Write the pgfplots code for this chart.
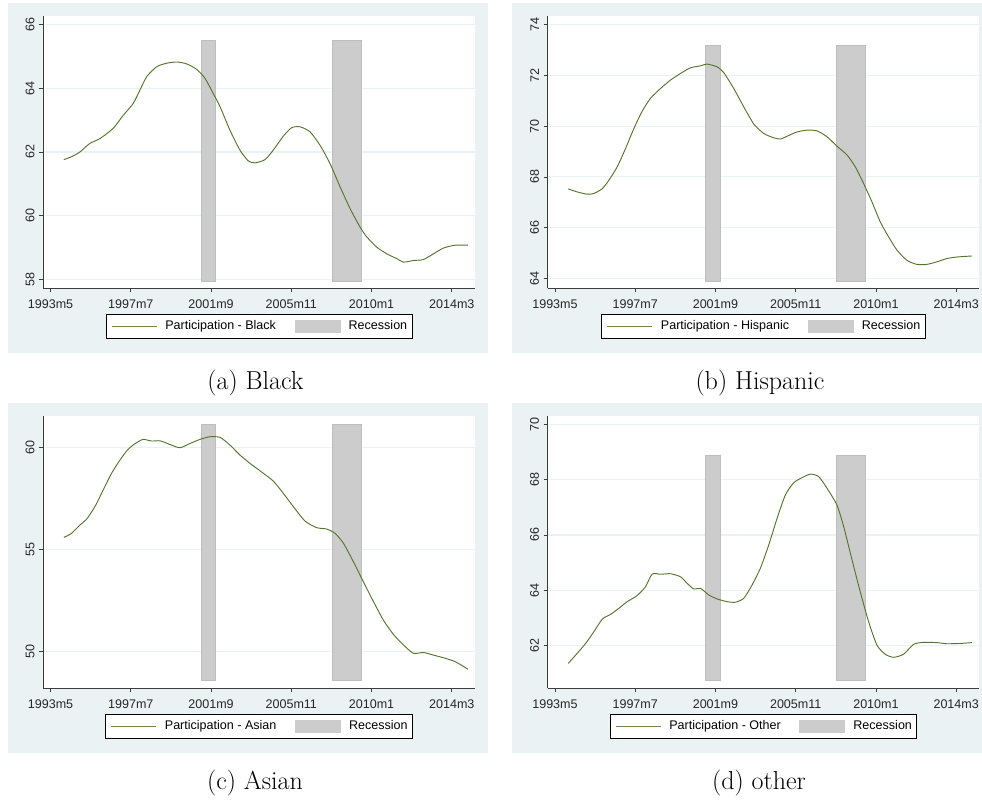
\documentclass[border=0pt]{standalone}
\usepackage{fontspec}
\usepackage{pgfplots}
\pgfplotsset{compat=1.18}
\newfontfamily\arial{Liberation Sans}

\definecolor{bgblue}{RGB}{234,242,243}
\definecolor{forest}{RGB}{85,117,47}
\definecolor{recfill}{RGB}{204,204,204}
\definecolor{recedge}{RGB}{190,190,190}
\definecolor{axisgray}{RGB}{60,60,60}

\pgfplotsset{
  statapanel/.style={
    scale only axis, width=323.8pt, height=204.2pt,
    xmin=395.5, xmax=664.5,
    xtick={400,450,500,550,600,650},
    xticklabels={1993m5,1997m7,2001m9,2005m11,2010m1,2014m3},
    axis lines*=left,
    axis line style={axisgray, line width=0.7pt},
    tick align=outside, major tick length=3pt,
    tick style={axisgray, line width=0.6pt},
    ymajorgrids, grid style={bgblue, line width=0.8pt},
    axis background/.style={fill=white},
    ticklabel style={font=\arial\fontsize{9.4}{11}\selectfont, text=black!85},
    /pgf/number format/assume math mode=true,
    xticklabel style={yshift=-2.2pt},
    yticklabel style={rotate=90, anchor=south},
    legend columns=2,
    legend cell align=left,
    legend style={at={(0.5,0)}, anchor=north, yshift=-19.5pt,
      draw=black, line width=0.75pt, fill=white,
      font=\arial\fontsize{9.4}{11}\selectfont,
      inner xsep=3.75pt, inner ysep=3.9pt,
      nodes={inner sep=0pt, text height=7pt, text depth=2pt},
      /tikz/every odd column/.append style={column sep=6pt},
      /tikz/every even column/.append style={column sep=14pt}},
  },
  recbar/.style={fill=recfill, draw=recedge, line width=0.5pt, forget plot},
  partline/.style={forest, line width=0.7pt, smooth, tension=0.4,
    legend image code/.code={\draw[forest!85, line width=0.8pt] (0pt,0pt) -- (33.75pt,0pt);}},
  recimage/.style={legend image code/.code={\fill[recfill] (0pt,-4.5pt) rectangle (33.75pt,4.5pt);}},
}

\begin{document}
\begin{tikzpicture}
\useasboundingbox (0,0) rectangle (736.5pt,-600.75pt);
% panel backgrounds
\fill[bgblue] (6pt,-2.25pt) rectangle (366pt,-264.75pt);
\fill[bgblue] (384pt,-2.25pt) rectangle (736.5pt,-264.75pt);
\fill[bgblue] (6pt,-302.25pt) rectangle (366pt,-564.75pt);
\fill[bgblue] (384pt,-302.25pt) rectangle (736.5pt,-564.75pt);

% (a) Black
\begin{axis}[statapanel, at={(32.5pt,-12pt)}, anchor=north west,
  ymin=57.73, ymax=66.26, ytick={58,60,62,64,66}]
\addplot[recbar] coordinates {(494,57.96) (502.8,57.96) (502.8,65.49) (494,65.49)} -- cycle;
\addplot[recbar] coordinates {(575.5,57.96) (593.5,57.96) (593.5,65.49) (575.5,65.49)} -- cycle;
\addplot[partline] coordinates {
(408.3,61.76) (413,61.85) (418.3,62.0) (424.5,62.27) (430.8,62.42) (439,62.74)
(445.3,63.15) (451.5,63.52) (455.7,63.94) (459.9,64.36) (466.1,64.67) (472.3,64.78)
(478.6,64.82) (484.8,64.76) (491,64.59) (496.2,64.31) (501.4,63.83) (505.6,63.42)
(511.8,62.68) (518,62.06) (523.2,61.72) (527.4,61.66) (533.6,61.76) (538.8,62.06)
(545.1,62.5) (550.2,62.76) (555.4,62.79) (561.7,62.63) (567.9,62.21) (574.1,61.64)
(580.4,60.91) (586.6,60.23) (592.8,59.65) (597,59.34) (603.2,59.02) (609.5,58.81)
(615.7,58.66) (619.9,58.55) (626.1,58.6) (632.3,58.63) (638.6,58.81) (644.8,58.99)
(652.1,59.08) (660,59.08)};
\addlegendentry{Participation - Black}
\addlegendimage{recimage}
\addlegendentry{Recession}
\end{axis}

% (b) Hispanic
\begin{axis}[statapanel, at={(410.8pt,-12pt)}, anchor=north west,
  ymin=63.62, ymax=74.33, ytick={64,66,68,70,72,74}]
\addplot[recbar] coordinates {(494,63.9) (502.8,63.9) (502.8,73.16) (494,73.16)} -- cycle;
\addplot[recbar] coordinates {(575.5,63.9) (593.5,63.9) (593.5,73.16) (575.5,73.16)} -- cycle;
\addplot[partline] coordinates {
(408.3,67.53) (413.9,67.41) (420.1,67.32) (424.3,67.35) (429.5,67.54) (433.6,67.87)
(438.8,68.4) (444,69.12) (449.2,69.91) (454.4,70.59) (459.5,71.09) (465.8,71.48)
(472,71.81) (478.2,72.07) (484.4,72.29) (490.7,72.37) (494.8,72.44) (501,72.33)
(505.2,72.1) (511.4,71.48) (517.6,70.76) (523.9,70.08) (530.1,69.71) (536.3,69.54)
(540.5,69.49) (544.6,69.6) (550.8,69.77) (557.1,69.84) (563.3,69.81) (569.5,69.58)
(575.7,69.21) (582,68.86) (587.1,68.4) (592.3,67.74) (597.5,67.02) (602.7,66.23)
(607.9,65.64) (613.1,65.12) (619.3,64.72) (625.5,64.56) (631.7,64.56) (638,64.66)
(644.2,64.79) (650.4,64.85) (659.8,64.89)};
\addlegendentry{Participation - Hispanic}
\addlegendimage{recimage}
\addlegendentry{Recession}
\end{axis}

% (c) Asian
\begin{axis}[statapanel, at={(32.5pt,-312pt)}, anchor=north west,
  ymin=48.17, ymax=61.56, ytick={50,55,60}]
\addplot[recbar] coordinates {(494,48.54) (502.8,48.54) (502.8,61.15) (494,61.15)} -- cycle;
\addplot[recbar] coordinates {(575.5,48.54) (593.5,48.54) (593.5,61.15) (575.5,61.15)} -- cycle;
\addplot[partline] coordinates {
(408.3,55.59) (413.1,55.79) (418.3,56.2) (422.4,56.48) (427.6,57.1) (432.8,57.92)
(438,58.74) (443.2,59.39) (448.4,59.93) (453.6,60.25) (457.8,60.41) (463,60.33)
(468.2,60.34) (474.4,60.16) (480.6,60.0) (486.9,60.21) (493.1,60.41) (499.3,60.54)
(505.6,60.51) (511.8,60.13) (518,59.64) (524.3,59.23) (532.6,58.74) (538.8,58.36)
(545.1,57.75) (551.3,57.1) (558.6,56.39) (565.8,56.07) (572.1,56.0) (577.3,55.79)
(582.5,55.3) (588.7,54.39) (594.9,53.41) (601.2,52.43) (607.4,51.52) (613.6,50.82)
(619.9,50.3) (626.1,49.89) (632.3,49.93) (638.6,49.8) (644.8,49.67) (652.1,49.48)
(660,49.11)};
\addlegendentry{Participation - Asian}
\addlegendimage{recimage}
\addlegendentry{Recession}
\end{axis}

% (d) Other
\begin{axis}[statapanel, at={(410.8pt,-312pt)}, anchor=north west,
  ymin=60.46, ymax=70.3, ytick={62,64,66,68,70}]
\addplot[recbar] coordinates {(494,60.74) (502.8,60.74) (502.8,68.89) (494,68.89)} -- cycle;
\addplot[recbar] coordinates {(575.5,60.74) (593.5,60.74) (593.5,68.89) (575.5,68.89)} -- cycle;
\addplot[partline] coordinates {
(408.3,61.36) (412.9,61.66) (419.1,62.08) (424.3,62.51) (429.5,62.96) (434.6,63.13)
(439.8,63.35) (445,63.59) (451.2,63.81) (456.4,64.13) (460.6,64.59) (465.8,64.58)
(472,64.6) (478.2,64.49) (482.4,64.25) (486.5,64.05) (490.7,64.07) (495.9,63.83)
(501,63.69) (507.3,63.59) (512.4,63.57) (517.6,63.71) (522.8,64.19) (528,64.8)
(533.2,65.64) (538.4,66.6) (543.6,67.45) (548.8,67.89) (553.9,68.07) (559.1,68.2)
(564.3,68.11) (569.5,67.69) (575.7,67.08) (579.9,66.3) (585.1,65.1) (590.2,63.95)
(595.4,62.87) (600.6,62.02) (605.8,61.69) (611,61.58) (617.2,61.69) (623.5,62.05)
(629.7,62.12) (638,62.11) (644.2,62.07) (652.5,62.08) (659.8,62.11)};
\addlegendentry{Participation - Other}
\addlegendimage{recimage}
\addlegendentry{Recession}
\end{axis}

% sub-captions
\node[font=\fontsize{19.5}{23}\selectfont] at (191.6pt,-287.25pt) {(a) Black};
\node[font=\fontsize{19.5}{23}\selectfont] at (570pt,-287.25pt) {(b) Hispanic};
\node[font=\fontsize{19.5}{23}\selectfont] at (191.25pt,-587.25pt) {(c) Asian};
\node[font=\fontsize{19.5}{23}\selectfont] at (569.25pt,-587.25pt) {(d) other};
\end{tikzpicture}
\end{document}
